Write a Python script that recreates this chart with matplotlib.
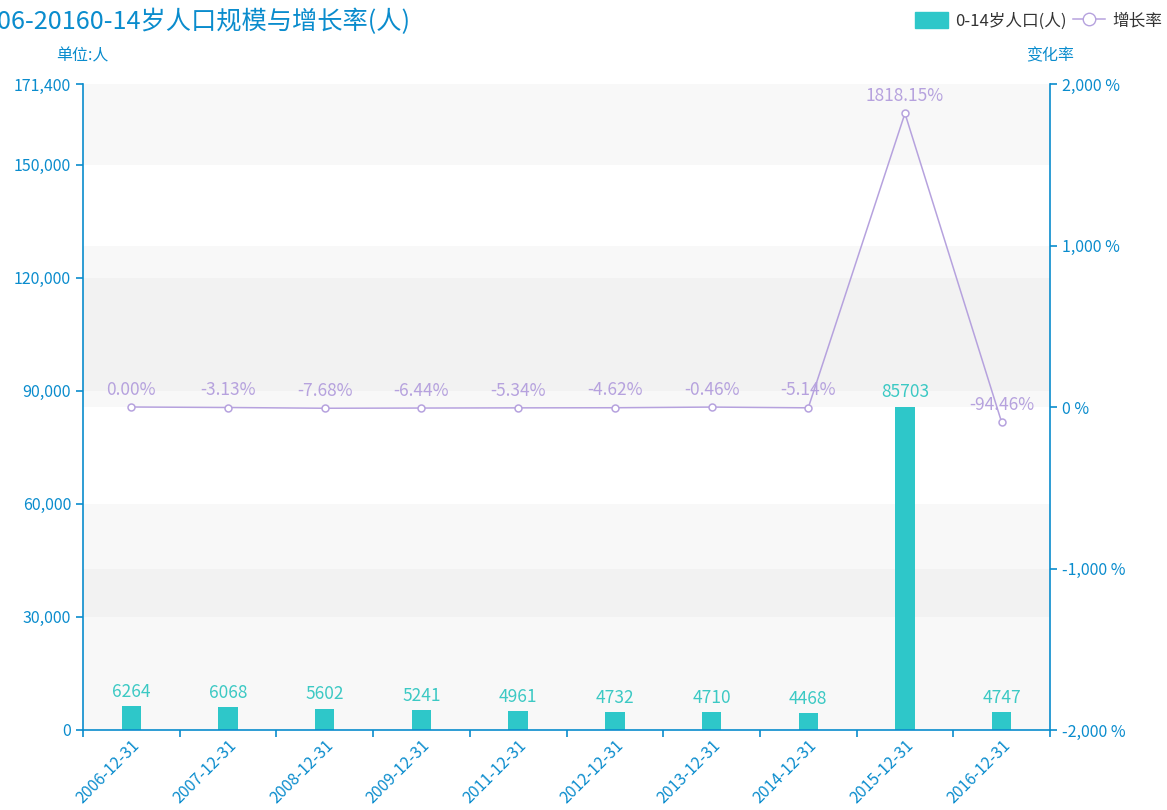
import matplotlib
matplotlib.use("Agg")
import matplotlib.pyplot as plt
import numpy as np
from matplotlib.patches import Patch
from matplotlib.lines import Line2D
from matplotlib.ticker import FuncFormatter

plt.rcParams['font.family'] = ['Noto Sans CJK SC', 'DejaVu Sans']

# data
dates = ['2006-12-31', '2007-12-31', '2008-12-31', '2009-12-31', '2011-12-31',
         '2012-12-31', '2013-12-31', '2014-12-31', '2015-12-31', '2016-12-31']
population = [6264, 6068, 5602, 5241, 4961, 4732, 4710, 4468, 85703, 4747]
growth = [0.00, -3.13, -7.68, -6.44, -5.34, -4.62, -0.46, -5.14, 1818.15, -94.46]

left_ticks = [0, 30000, 60000, 90000, 120000, 150000, 171400]
right_ticks = [-2000, -1000, 0, 1000, 2000]

title = '2006-20160-14岁人口规模与增长率(人)'
bar_name = '0-14岁人口(人)'
line_name = '增长率'

BLUE = '#0a8ccd'
TEAL = '#2ec7c9'
PURPLE = '#b6a2de'

fig = plt.figure(figsize=(11.67, 8.10), dpi=100)
ax = fig.add_axes([83 / 1167, 80 / 810, 967 / 1167, 646 / 810])
ax2 = ax.twinx()

x = np.arange(len(dates))
ax.set_xlim(-0.5, len(dates) - 0.5)
ax.set_ylim(left_ticks[0], left_ticks[-1])
ax2.set_ylim(right_ticks[0], right_ticks[-1])

# split areas of both axes, overlapping like the original
gray = (200 / 255, 200 / 255, 200 / 255)
for i in range(len(left_ticks) - 1):
    if i % 2 == 1:
        ax.axhspan(left_ticks[i], left_ticks[i + 1], color=gray, alpha=0.11, lw=0, zorder=0)


def r2l(v):
    return (v - right_ticks[0]) / (right_ticks[-1] - right_ticks[0]) * left_ticks[-1]


for i in range(len(right_ticks) - 1):
    if i % 2 == 0:
        ax.axhspan(r2l(right_ticks[i]), r2l(right_ticks[i + 1]), color=gray, alpha=0.11, lw=0, zorder=0)

bars = ax.bar(x, population, width=0.2, color=TEAL, zorder=2)
ax.bar_label(bars, padding=4, color='#3cc9c4', fontsize=12.5)

ax2.plot(x, growth, color=PURPLE, lw=1.1, marker='o', ms=5, mfc='white', mec=PURPLE, mew=1.1, zorder=3)
for xi, g in zip(x, growth):
    ax2.annotate(f'{g:.2f}%', (xi, g), xytext=(0, 6), textcoords='offset points',
                 ha='center', va='bottom', color=PURPLE, fontsize=12.5)

# spines
for s in ['top', 'right']:
    ax.spines[s].set_visible(False)
for s in ['top', 'left', 'bottom']:
    ax2.spines[s].set_visible(False)
for s in ['left', 'bottom']:
    ax.spines[s].set_color(BLUE)
    ax.spines[s].set_linewidth(1.2)
ax2.spines['right'].set_color(BLUE)
ax2.spines['right'].set_linewidth(1.2)

ax.set_yticks(left_ticks)
ax.yaxis.set_major_formatter(FuncFormatter(lambda v, p: f'{v:,.0f}'))
ax2.set_yticks(right_ticks)
ax2.yaxis.set_major_formatter(FuncFormatter(lambda v, p: f'{v:,.0f} %'))
ax.tick_params(axis='y', colors=BLUE, labelsize=11.5, length=5, width=1.2)
ax2.tick_params(axis='y', colors=BLUE, labelsize=11.5, length=5, width=1.2)

# ticks at category boundaries, labels at centers
ax.set_xticks(np.arange(-0.5, len(dates)))
ax.set_xticklabels([])
ax.tick_params(axis='x', which='major', colors=BLUE, length=5, width=1.2)
ax.set_xticks(x, minor=True)
ax.set_xticklabels(dates, minor=True, rotation=45, ha='right', rotation_mode='anchor')
ax.tick_params(axis='x', which='minor', length=0, pad=5, labelsize=11.5, labelcolor=BLUE)

fig.text(82 / 1167, 1 - 56 / 810, '单位:人', ha='center', va='center', color=BLUE, fontsize=11.5)
fig.text(1050 / 1167, 1 - 56 / 810, '变化率', ha='center', va='center', color=BLUE, fontsize=11.5)
fig.text(-30 / 1167, 1 - 22 / 810, title, ha='left', va='center', color=BLUE, fontsize=18.2)

handles = [Patch(facecolor=TEAL, edgecolor=TEAL),
           Line2D([], [], color=PURPLE, lw=1.1, marker='o', ms=9, mfc='white', mec=PURPLE)]
fig.legend(handles, [bar_name, line_name], loc='upper right', bbox_to_anchor=(1.009, 1.004),
           ncol=2, frameon=False, fontsize=12, handlelength=1.95, handleheight=1.1,
           columnspacing=0.35, handletextpad=0.45, labelcolor='#333333')

fig.savefig('out.png', dpi=100)
